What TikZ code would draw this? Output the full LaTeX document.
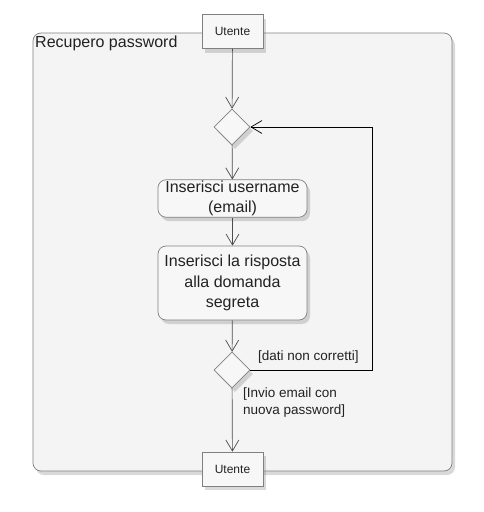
\documentclass[tikz,border=0pt]{standalone}
\usepackage{fontspec}
\setmainfont{Liberation Sans}
\usetikzlibrary{shapes.geometric,arrows.meta,shadows}
\definecolor{edgegray}{HTML}{808080}
\definecolor{boxfill}{HTML}{F7F7F7}
\definecolor{cfill}{HTML}{F4F4F4}
\definecolor{txt}{HTML}{222222}
\tikzset{
  shad/.style={drop shadow={shadow xshift=3pt,shadow yshift=-4pt,opacity=0.25,fill=black!60}},
  container/.style={draw=edgegray,fill=cfill,rounded corners=8pt,line width=0.7pt,shad},
  objbox/.style={draw=edgegray,fill=boxfill,minimum width=61pt,minimum height=34pt,inner sep=0pt,font=\fontsize{12}{14}\selectfont,text=txt,line width=0.7pt,shad},
  actbox/.style={draw=edgegray,fill=boxfill,rounded corners=8pt,minimum width=149pt,inner sep=1pt,align=center,font=\fontsize{16}{20.5}\selectfont,text=txt,line width=0.7pt,shad},
  decis/.style={diamond,draw=edgegray,fill=boxfill,minimum width=36pt,minimum height=36pt,inner sep=0pt,line width=0.7pt,shad},
  flow/.style={draw=black!70,line width=0.7pt,-{Straight Barb[length=11pt,width=13pt,line width=0.7pt]}},
  guard/.style={font=\fontsize{13.5}{17}\selectfont,text=txt,align=left,inner sep=0pt},
}
\begin{document}
\begin{tikzpicture}[x=1pt,y=-1pt]
\useasboundingbox (0,0) rectangle (484,512);
\path[container] (33,33) rectangle (452,471);
\node[anchor=north west,inner sep=0pt,font=\fontsize{16}{19}\selectfont,text=txt] (title) at (35,36) {Recupero password};
\node[objbox] (u1) at (232.5,31.5) {Utente};
\node[decis] (d1) at (232,127) {};
\node[actbox,minimum height=37pt] (a1) at (232.5,198.5) {Inserisci username\\(email)};
\node[actbox,minimum height=74pt] (a2) at (232.5,283) {Inserisci la risposta\\alla domanda\\segreta};
\node[decis] (d2) at (232,370) {};
\node[objbox] (u2) at (232.5,469) {Utente};
\coordinate (loop) at (372,250);
\draw[flow] (u1) -- (d1);
\draw[flow] (d1) -- (a1);
\draw[flow] (a1) -- (a2);
\draw[flow] (a2) -- (d2);
\draw[flow] (d2) -- (u2);
\draw[flow,draw=black] (d2.east) -- (d2.east -| loop) -- (d1.east -| loop) -- (d1.east);
\node[guard,anchor=south west] (g1) at (258,363) {[dati non corretti]};
\node[guard,anchor=north west] (g2) at (243,388) {[Invio email con\\nuova password]};
\end{tikzpicture}
\end{document}
